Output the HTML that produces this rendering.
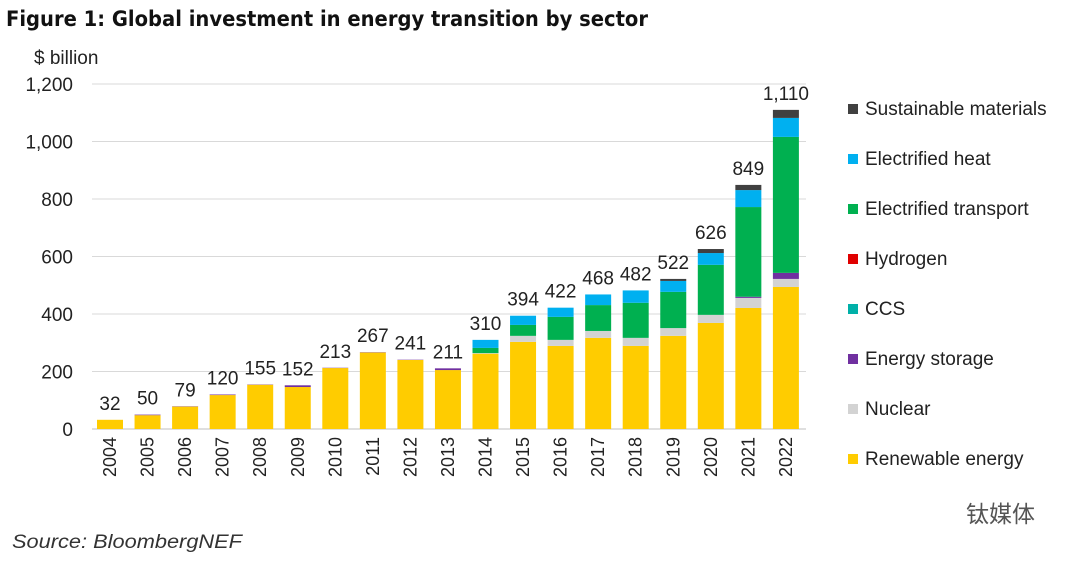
<!DOCTYPE html>
<html><head><meta charset="utf-8"><style>
body{margin:0;background:#fff;width:1080px;height:560px;overflow:hidden;font-family:"Liberation Sans",sans-serif}
</style></head><body>
<svg id="chart" width="1080" height="560" xmlns="http://www.w3.org/2000/svg">
<text x="6" y="26" font-size="21" font-weight="bold" fill="#111" textLength="642" lengthAdjust="spacingAndGlyphs" font-family="DejaVu Sans, Liberation Sans, sans-serif">Figure 1: Global investment in energy transition by sector</text>
<text x="34" y="64" font-size="19" fill="#222">$ billion</text>
<text x="12" y="548" font-size="19" font-style="italic" fill="#333" textLength="230" lengthAdjust="spacingAndGlyphs">Source: BloombergNEF</text>
<text x="966" y="522" font-size="23" fill="#555" font-family="Liberation Sans, Noto Sans CJK SC, sans-serif">钛媒体</text>
<g id="grid"></g><g id="bars"></g><g id="labels"></g><g id="legend"></g>
</svg>
<script>
const years=["2004","2005","2006","2007","2008","2009","2010","2011","2012","2013","2014","2015","2016","2017","2018","2019","2020","2021","2022"];
const totals=[32,50,79,120,155,152,213,267,241,211,310,394,422,468,482,522,626,849,1110];
const renewable=[32,48,78,118,154,146,212,266,240,205,262,303,289,317,289,324,369,421,494];
const nuclear=[0,0,0,0,0,0,0,0,0,0,2,21,21,24,28,27,28,35,28];
const storage=[0,2,1,2,1,6,1,1,1,6,0,0,0,0,0,0,0,4,21];
const ccs=[0,0,0,0,0,0,0,0,0,0,0,0,0,0,0,0,0,0,0];
const hydrogen=[0,0,0,0,0,0,0,0,0,0,0,0,0,0,0,0,0,0,0];
const transport=[0,0,0,0,0,0,0,0,0,0,18,38,80,90,122,126,174,312,473];
const heat=[0,0,0,0,0,0,0,0,0,0,28,32,32,37,43,38,41,59,66];
const materials=[0,0,0,0,0,0,0,0,0,0,0,0,0,0,0,7,14,18,28];
const seriesNames=["Renewable energy","Nuclear","Energy storage","CCS","Hydrogen","Electrified transport","Electrified heat","Sustainable materials"];
const seriesColors=["#FFCC00","#D3D3D3","#7030A0","#00B0A8","#E00000","#00B050","#00B0F0","#404040"];
const ticks=[0,200,400,600,800,1000,1200];
const series=[renewable,nuclear,storage,ccs,hydrogen,transport,heat,materials];
const NS="http://www.w3.org/2000/svg";
const y=v=>429-v*345/1200;
const x=i=>110+i*37.55;
function mk(t,a,p){const e=document.createElementNS(NS,t);for(const k in a)e.setAttribute(k,a[k]);p.appendChild(e);return e;}
const grid=document.getElementById('grid');
ticks.forEach(t=>{
 const l=mk('line',{x1:92,x2:806,y1:y(t),y2:y(t),stroke:t?'#d9d9d9':'#bfbfbf','stroke-width':1},grid);
 
 
 const tx=mk('text',{x:73,y:y(t)+7,'font-size':19,'text-anchor':'end',fill:'#222'},grid);
 tx.textContent=t.toLocaleString('en-US');
 
 
});
const bars=document.getElementById('bars'),labels=document.getElementById('labels');
years.forEach((yr,i)=>{
 let base=0;
 series.forEach((s,k)=>{
  const v=s[i];if(!v)return;
  const r=mk('rect',{x:x(i)-13,width:26,y:y(base+v),height:y(base)-y(base+v),fill:seriesColors[k]},bars);
  
  
  base+=v;
 });
 const t=mk('text',{x:x(i),y:y(totals[i])-10,'font-size':19,'text-anchor':'middle',fill:'#222'},labels);
 t.textContent=totals[i].toLocaleString('en-US');
 
 
 const xl=mk('text',{x:0,y:0,'font-size':18,'text-anchor':'end',fill:'#222',transform:`translate(${x(i)+6},437) rotate(-90)`},labels);
 xl.textContent=yr;
 
 
});
const lg=document.getElementById('legend');
for(let k=7;k>=0;k--){
 const row=7-k, yy=108+row*50;
 const g=mk('g',{},lg);
 
 
 mk('rect',{x:848,y:yy-4,width:10,height:10,fill:seriesColors[k]},g);
 const t=mk('text',{x:865,y:yy+7,'font-size':19,fill:'#222'},g);
 t.textContent=seriesNames[k];
}
</script>
</body></html>
